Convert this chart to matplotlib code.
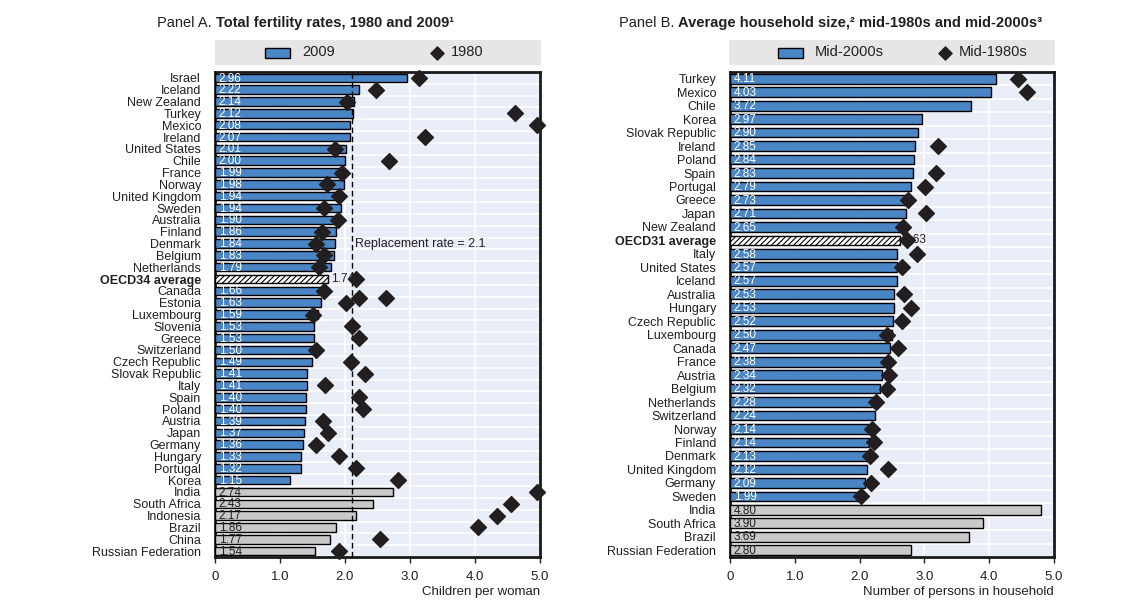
import matplotlib
matplotlib.use("Agg")
import matplotlib.pyplot as plt
import matplotlib.patches as mpatches
import numpy as np

plt.rcParams['font.family'] = ['Liberation Sans', 'DejaVu Sans']
plt.rcParams['font.size'] = 9
plt.rcParams['hatch.linewidth'] = 0.8

# PANEL A DATA
a_countries = ["Israel", "Iceland", "New Zealand", "Turkey", "Mexico", "Ireland",
               "United States", "Chile", "France", "Norway", "United Kingdom", "Sweden",
               "Australia", "Finland", "Denmark", "Belgium", "Netherlands", "OECD34 average",
               "Canada", "Estonia", "Luxembourg", "Slovenia", "Greece", "Switzerland",
               "Czech Republic", "Slovak Republic", "Italy", "Spain", "Poland", "Austria",
               "Japan", "Germany", "Hungary", "Portugal", "Korea", "India", "South Africa",
               "Indonesia", "Brazil", "China", "Russian Federation"]
a_2009 = [2.96, 2.22, 2.14, 2.12, 2.08, 2.07, 2.01, 2.00, 1.99, 1.98, 1.94, 1.94,
          1.90, 1.86, 1.84, 1.83, 1.79, 1.74, 1.66, 1.63, 1.59, 1.53, 1.53, 1.50,
          1.49, 1.41, 1.41, 1.40, 1.40, 1.39, 1.37, 1.36, 1.33, 1.32, 1.15, 2.74,
          2.43, 2.17, 1.86, 1.77, 1.54]
a_1980 = [3.14, 2.47, 2.03, 4.61, 4.96, 3.23, 1.84, 2.67, 1.95, 1.72, 1.90, 1.68,
          1.89, 1.64, 1.55, 1.68, 1.60, 2.17, 1.68, 2.02, 1.50, 2.10, 2.21, 1.55,
          2.09, 2.30, 1.69, 2.21, 2.27, 1.66, 1.74, 1.55, 1.91, 2.17, 2.82, 4.95,
          4.55, 4.34, 4.05, 2.54, 1.90]
# two stray diamonds printed just above the Estonia row in the original
a_stray_1980 = [2.21, 2.63]
a_stray_row = "Estonia"
a_avg = "OECD34 average"
a_nonoecd = ["India", "South Africa", "Indonesia", "Brazil", "China", "Russian Federation"]
replacement_rate = 2.1

# PANEL B DATA
b_countries = ["Turkey", "Mexico", "Chile", "Korea", "Slovak Republic", "Ireland", "Poland",
               "Spain", "Portugal", "Greece", "Japan", "New Zealand", "OECD31 average",
               "Italy", "United States", "Iceland", "Australia", "Hungary", "Czech Republic",
               "Luxembourg", "Canada", "France", "Austria", "Belgium", "Netherlands",
               "Switzerland", "Norway", "Finland", "Denmark", "United Kingdom", "Germany",
               "Sweden", "India", "South Africa", "Brazil", "Russian Federation"]
b_mid2000 = [4.11, 4.03, 3.72, 2.97, 2.90, 2.85, 2.84, 2.83, 2.79, 2.73, 2.71, 2.65, 2.63,
             2.58, 2.57, 2.57, 2.53, 2.53, 2.52, 2.50, 2.47, 2.38, 2.34, 2.32, 2.28, 2.24,
             2.14, 2.14, 2.13, 2.12, 2.09, 1.99, 4.80, 3.90, 3.69, 2.80]
b_mid1980 = [4.44, 4.59, None, None, None, 3.21, None, 3.18, 3.01, 2.75, 3.02, 2.67, 2.73,
             2.88, 2.65, None, 2.69, 2.80, 2.66, 2.42, 2.60, 2.44, 2.46, 2.43, 2.26, None,
             2.19, 2.22, 2.16, 2.44, 2.18, 2.02, None, None, None, None]
b_avg = "OECD31 average"
b_nonoecd = ["India", "South Africa", "Brazil", "Russian Federation"]

BLUE = "#4A86C5"
GREY = "#C9C9C9"
BG = "#E9EDF8"
LEG_BG = "#E6E6E6"
TXT = "#231F20"

W, H = 1142, 601
fig = plt.figure(figsize=(W / 100, H / 100), dpi=100)


def fx(px):
    return px / W


def fy(px):
    return 1 - px / H


def draw_panel(ax, names, vals, marks, avg, nonoecd, xlabel):
    n = len(names)
    y = np.arange(n)
    ax.set_facecolor(BG)
    for i, (name, v) in enumerate(zip(names, vals)):
        if name == avg:
            ax.barh(i, v, height=0.72, color="white", edgecolor="black", hatch="//////",
                    linewidth=1, zorder=3)
            ax.text(v + 0.05, i, f"{v:.2f}", va="center", ha="left", color=TXT,
                    fontsize=8.5, zorder=5)
        else:
            col = GREY if name in nonoecd else BLUE
            ax.barh(i, v, height=0.72, color=col, edgecolor="black", linewidth=1, zorder=3)
            ax.text(0.06, i + 0.05, f"{v:.2f}", va="center", ha="left",
                    color=TXT if name in nonoecd else "white", fontsize=8.5, zorder=5)
    mx = [m for m in marks if m is not None]
    my = [i for i, m in enumerate(marks) if m is not None]
    ax.scatter(mx, my, marker="D", s=65, color="#231F20", zorder=6, clip_on=False)

    ax.set_xlim(0, 5)
    ax.set_ylim(n - 0.5, -0.5)
    ax.set_xticks([0, 1, 2, 3, 4, 5])
    ax.set_xticklabels(["0", "1.0", "2.0", "3.0", "4.0", "5.0"])
    ax.set_yticks(y)
    ax.set_yticklabels(names)
    for lbl in ax.get_yticklabels():
        if lbl.get_text() == avg:
            lbl.set_fontweight("bold")
        lbl.set_color(TXT)
    ax.tick_params(axis="y", length=0, pad=10, labelsize=9)
    ax.tick_params(axis="x", direction="out", length=4, width=1, pad=6, labelsize=9.5,
                   colors=TXT)
    ax.set_yticks(np.arange(n + 1) - 0.5, minor=True)
    ax.tick_params(axis="y", which="minor", length=0)
    ax.grid(axis="x", color="white", linewidth=1.2, zorder=1)
    ax.grid(axis="y", which="minor", color="white", linewidth=1.2, zorder=1)
    for sp in ax.spines.values():
        sp.set_linewidth(2)
        sp.set_color("#1a1a1a")
    ax.set_axisbelow(True)
    ax.set_xlabel(xlabel, ha="right", x=1.0, labelpad=2, fontsize=9.5, color=TXT)


def draw_legend(left, right, lab1, lab2, x_rect, x_dia):
    lax = fig.add_axes([fx(left), fy(65), fx(right - left), 25 / H])
    lax.set_facecolor(LEG_BG)
    lax.set_xlim(left, right)
    lax.set_ylim(0, 1)
    for sp in lax.spines.values():
        sp.set_visible(False)
    lax.set_xticks([])
    lax.set_yticks([])
    lax.add_patch(mpatches.Rectangle((x_rect, 0.3), 25, 0.4, facecolor=BLUE,
                                     edgecolor="black", linewidth=1))
    lax.text(x_rect + 37, 0.5, lab1, va="center", ha="left", fontsize=10.5, color=TXT)
    lax.scatter([x_dia], [0.5], marker="D", s=45, color="#231F20")
    lax.text(x_dia + 14, 0.5, lab2, va="center", ha="left", fontsize=10.5, color=TXT)


# PANEL A
axA = fig.add_axes([fx(215), fy(557), fx(540 - 215), (557 - 72) / H])
draw_panel(axA, a_countries, a_2009, a_1980, a_avg, a_nonoecd, "Children per woman")
est = a_countries.index(a_stray_row)
axA.scatter(a_stray_1980, [est - 0.4] * len(a_stray_1980), marker="D", s=65,
            color="#231F20", zorder=6)
axA.axvline(replacement_rate, color="black", linestyle=(0, (4, 2.5)), linewidth=1, zorder=4)
axA.text(replacement_rate + 0.05, a_countries.index("Denmark"),
         f"Replacement rate = {replacement_rate}", va="center", ha="left", fontsize=9,
         color=TXT, zorder=5)
draw_legend(215, 541, "2009", "1980", 265, 437)

# PANEL B
axB = fig.add_axes([fx(730), fy(557), fx(1054 - 730), (557 - 72) / H])
draw_panel(axB, b_countries, b_mid2000, b_mid1980, b_avg, b_nonoecd,
           "Number of persons in household")
draw_legend(729, 1055, "Mid-2000s", "Mid-1980s", 778, 945)

# TITLES
t1 = fig.text(fx(157), fy(23), "Panel A. ", fontsize=10.5, va="center", ha="left", color=TXT)
fig.canvas.draw()
bb = t1.get_window_extent()
fig.text(bb.x1 / W, fy(23), "Total fertility rates, 1980 and 2009\u00b9", fontsize=10.5,
         fontweight="bold", va="center", ha="left", color=TXT)
t2 = fig.text(fx(619), fy(23), "Panel B. ", fontsize=10.5, va="center", ha="left", color=TXT)
fig.canvas.draw()
bb = t2.get_window_extent()
fig.text(bb.x1 / W, fy(23), "Average household size,\u00b2 mid-1980s and mid-2000s\u00b3",
         fontsize=10.5, fontweight="bold", va="center", ha="left", color=TXT)

fig.savefig("out.png", dpi=100)
